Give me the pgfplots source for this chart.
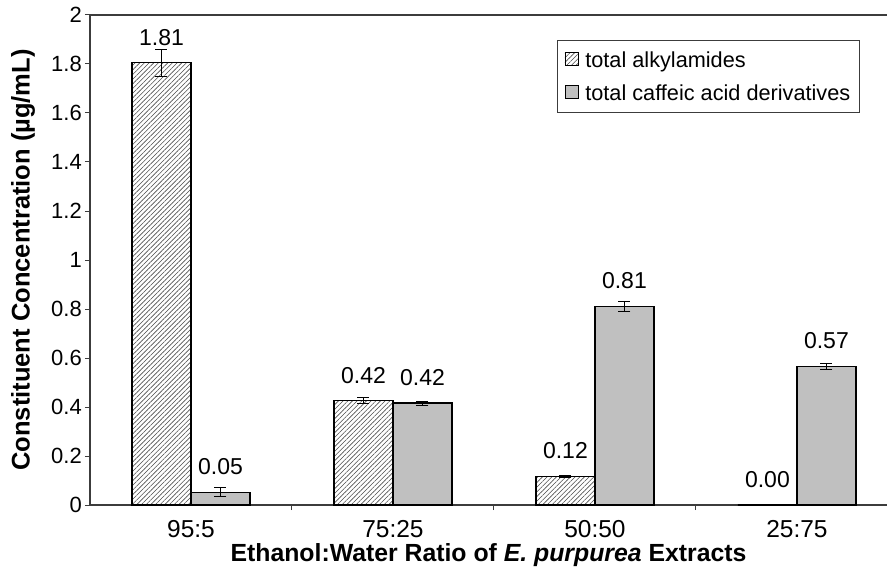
\documentclass[border=0pt]{standalone}
\usepackage{pgfplots}
\pgfplotsset{compat=1.18}
\usepackage{pgfplotstable}
\usetikzlibrary{patterns.meta}
\usepackage{fontspec}
\setmainfont{Liberation Sans}

\definecolor{barGray}{RGB}{192,192,192}
\definecolor{axGray}{RGB}{60,60,60}

% ratio, alkylamides (+err, label), caffeic acid derivatives (+err, label)
\pgfplotstableread{
x alk   alkerr alklab caf   caferr caflab
0 1.805 0.055  1.81   0.052 0.018  0.05
1 0.425 0.012  0.42   0.416 0.008  0.42
2 0.117 0.004  0.12   0.810 0.020  0.81
3 0.000 0.000  0.00   0.565 0.012  0.57
}\ratiodata

\begin{document}
\begin{tikzpicture}
\begin{axis}[
  scale only axis,
  width=797pt, height=490pt,
  xmin=-0.5, xmax=3.446,
  ymin=0, ymax=2,
  axis x line*=bottom, axis y line*=left,
  axis line style={axGray, line width=1.4pt},
  ybar=0pt, bar width=59pt,
  xtick={0,1,2,3},
  xticklabels={95:5,75:25,50:50,25:75},
  minor xtick={0.5,1.5,2.5},
  major x tick style={draw=none},
  ytick={0,0.2,0.4,0.6,0.8,1,1.2,1.4,1.6,1.8,2},
  tick align=outside,
  major tick length=5pt, minor tick length=5pt,
  tick style={axGray, line width=1pt},
  /pgf/number format/assume math mode=true,
  yticklabel style={font=\fontsize{22}{26}\selectfont, anchor=east, inner sep=0pt, xshift=-3pt},
  xticklabel style={font=\fontsize{24.5}{29}\selectfont, anchor=center, inner sep=0pt, yshift=-19pt},
  ylabel={\textbf{Constituent Concentration (µg/mL)}},
  xlabel={\textbf{Ethanol:Water Ratio of \textit{E.\ purpurea} Extracts}},
  ylabel style={font=\fontsize{25.5}{29}\selectfont, at={(axis description cs:-0.084,0.5)}, anchor=center},
  xlabel style={font=\fontsize{24.8}{29}\selectfont, at={(axis description cs:0.5,0)}, anchor=center,
    inner sep=0pt, yshift=-50pt},
  nodes near coords={\pgfmathprintnumber[fixed,fixed zerofill,precision=2]{\pgfplotspointmeta}},
  every node near coord/.append style={font=\fontsize{23}{27}\selectfont, anchor=center, yshift=25.5pt},
  legend style={at={(0.586,0.949)}, anchor=north west, draw=axGray, line width=1pt,
    font=\fontsize{21.7}{26}\selectfont, row sep=12pt, inner xsep=7pt, inner ysep=9pt,
    /tikz/every odd column/.style={column sep=5pt}},
  legend cell align=left,
  legend image code/.code={\draw[#1, line width=0.8pt] (0pt,-5.5pt) rectangle (13pt,7.5pt);},
  error bars/y dir=both, error bars/y explicit,
  error bars/error mark options={rotate=90, mark size=6pt, line width=1pt, black},
  error bars/error bar style={line width=1pt, black},
]
\addplot[draw=black, line width=1.2pt,
  pattern={Lines[angle=45, distance=3.3pt, line width=0.6pt]}, pattern color=black!70,
  point meta=explicit]
  table[x=x, y=alk, y error=alkerr, meta=alklab] {\ratiodata};
\addlegendentry{total alkylamides}
\addplot[draw=black, line width=1.2pt, fill=barGray, point meta=explicit]
  table[x=x, y=caf, y error=caferr, meta=caflab] {\ratiodata};
\addlegendentry{total caffeic acid derivatives}
\draw[axGray, line width=1.4pt] (rel axis cs:0,1) -- (rel axis cs:1,1);
\coordinate (sw) at (rel axis cs:0,0);
\coordinate (ne) at (rel axis cs:1,1);
\end{axis}
% page margins as in the reference
\pgfresetboundingbox
\path ([shift={(-90pt,-71pt)}]sw) rectangle ([shift={(0pt,15pt)}]ne);
\end{tikzpicture}
\end{document}
